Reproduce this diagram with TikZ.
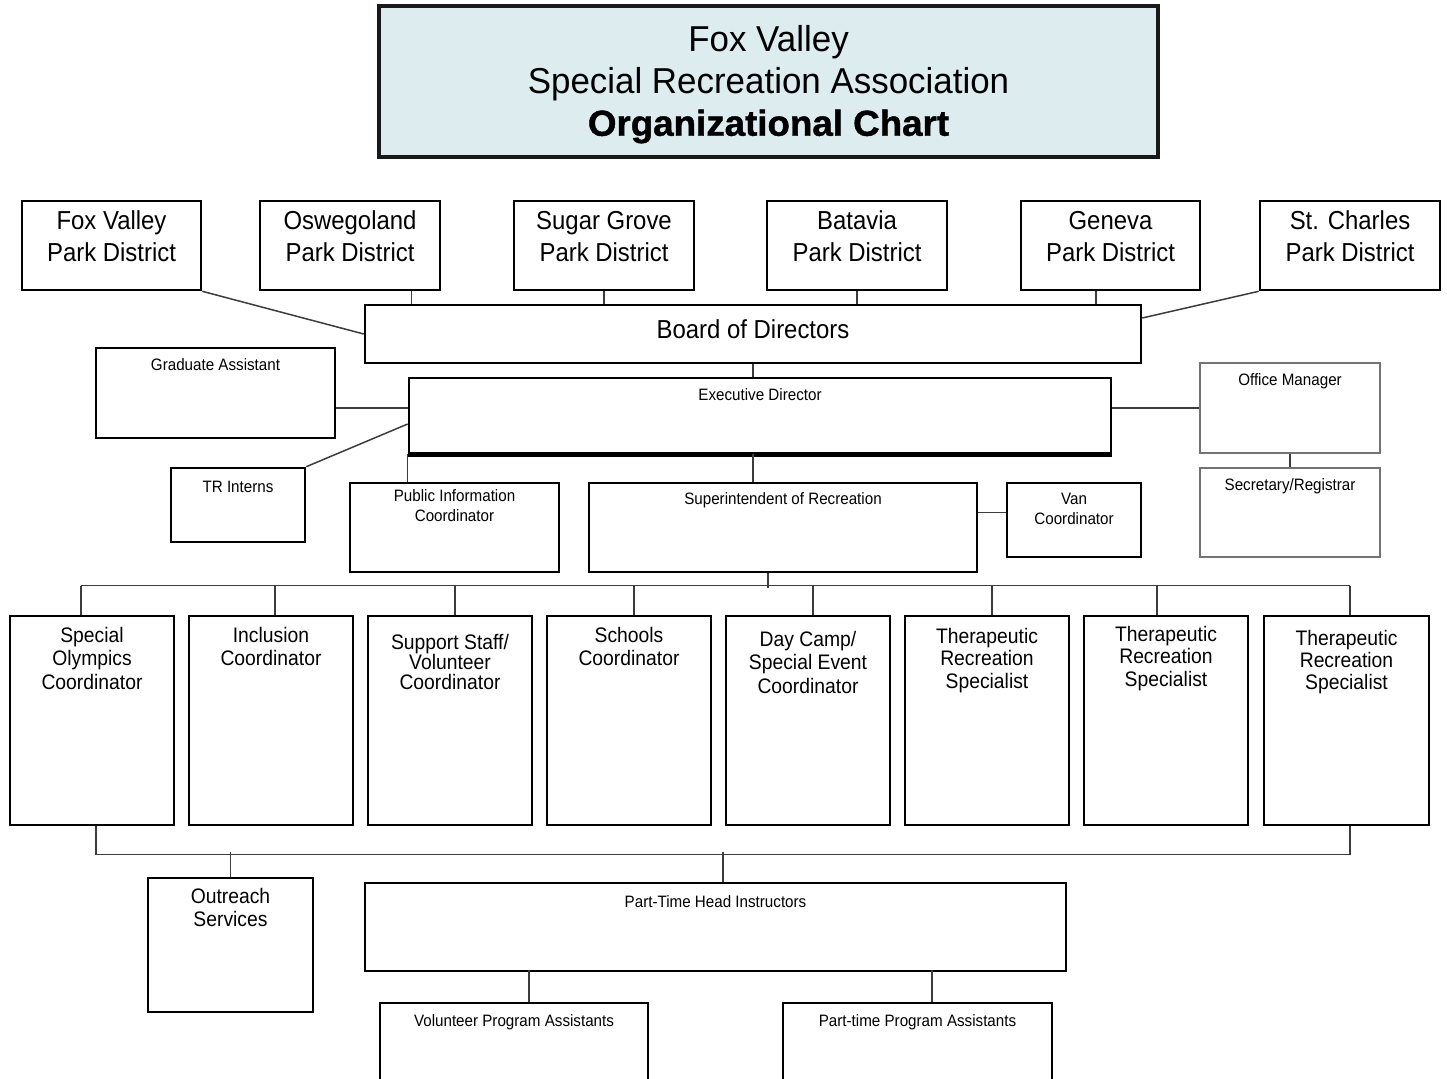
\documentclass[tikz,border=0pt]{standalone}
\usepackage{fontspec}
\setmainfont[FakeStretch=0.92,BoldFeatures={FakeStretch=1.0}]{Liberation Sans}
\newfontfamily\titlefont[FakeStretch=0.97,BoldFeatures={FakeStretch=1.02,FakeBold=1.2}]{Liberation Sans}
\usepackage{tikz}
\usetikzlibrary{positioning}

\definecolor{titlefill}{RGB}{221,236,239}
\definecolor{linkgray}{RGB}{60,60,60}

\begin{document}
\begin{tikzpicture}[x=1pt,y=-1pt,line join=miter]
  \tikzset{every node/.style={inner sep=0pt}}
  \tikzset{box/.style={draw=black,line width=2.6pt,fill=white,minimum width=#1}}
  \tikzset{thinbox/.style={draw=black!55,line width=1.6pt,fill=white,minimum width=#1}}
  \tikzset{link/.style={draw=linkgray,line width=1.5pt}}
  \tikzset{big/.style={font=\fontsize{26}{32}\selectfont,align=center}}
  \tikzset{mid/.style={font=\fontsize{21}{23.5}\selectfont,align=center}}
  \tikzset{small/.style={font=\fontsize{16.5}{20}\selectfont,align=center}}

  \clip (0,0) rectangle (1447,1078);
  \fill[white] (0,0) rectangle (1447,1078);

  % title
  \node[draw=black!90,line width=4.5pt,fill=titlefill,minimum width=779pt,minimum height=151pt,
        label={[font=\titlefont\fontsize{36}{42}\selectfont,align=center,yshift=-3pt]center:Fox Valley\\Special Recreation Association\\\textbf{Organizational Chart}}]
        (title) at (768.5,81.5) {};

  % park districts
  \node[box=179pt,minimum height=89pt,label={[big,anchor=north,yshift=-11pt]north:Fox Valley\\Park District}] (fox) at (111.5,245.5) {};
  \node[box=180pt,minimum height=89pt,label={[big,anchor=north,yshift=-11pt]north:Oswegoland\\Park District}] (osw) at (350,245.5) {};
  \node[box=180pt,minimum height=89pt,label={[big,anchor=north,yshift=-11pt]north:Sugar Grove\\Park District}] (sug) at (604,245.5) {};
  \node[box=180pt,minimum height=89pt,label={[big,anchor=north,yshift=-11pt]north:Batavia\\Park District}] (bat) at (857,245.5) {};
  \node[box=179pt,minimum height=89pt,label={[big,anchor=north,yshift=-11pt]north:Geneva\\Park District}] (gen) at (1110.5,245.5) {};
  \node[box=180pt,minimum height=89pt,label={[big,anchor=north,yshift=-11pt]north:St. Charles\\Park District}] (stc) at (1350,245.5) {};

  \node[box=776pt,minimum height=58pt,label={[big,yshift=5pt]center:Board of Directors}] (board) at (753,334) {};

  % staff
  \node[box=702pt,minimum height=75pt,label={[small,anchor=north,yshift=-12pt]north:Executive Director}] (exec) at (760,415.5) {};
  \draw[line width=4.5pt] (exec.south west) -- (exec.south east);
  \node[box=239pt,minimum height=90pt,label={[small,anchor=north,yshift=-12pt]north:Graduate Assistant}] (grad) at (215.5,393) {};
  \node[box=134pt,minimum height=74pt,label={[small,anchor=north,yshift=-14pt]north:TR Interns}] (tri) at (238,505) {};
  \node[thinbox=180pt,minimum height=90pt,label={[small,anchor=north,yshift=-11pt]north:Office Manager}] (office) at (1290,408) {};
  \node[thinbox=180pt,minimum height=89pt,label={[small,anchor=north,yshift=-11pt]north:Secretary/Registrar}] (sec) at (1290,512.5) {};
  \node[box=209pt,minimum height=89pt,label={[small,anchor=north,yshift=-8pt]north:Public Information\\Coordinator}] (pic) at (454.5,527.5) {};
  \node[box=388pt,minimum height=89pt,label={[small,anchor=north,yshift=-11pt]north:Superintendent of Recreation}] (supt) at (783,527.5) {};
  \node[box=134pt,minimum height=74pt,label={[small,anchor=north,yshift=-11pt]north:Van\\Coordinator}] (van) at (1074,520) {};

  % coordinators
  \node[box=164pt,minimum height=209pt,label={[mid,anchor=north,yshift=-12pt]north:Special\\Olympics\\Coordinator}] (so) at (92,720.5) {};
  \node[box=164pt,minimum height=209pt,label={[mid,anchor=north,yshift=-12pt]north:Inclusion\\Coordinator}] (inc) at (271,720.5) {};
  \node[box=164pt,minimum height=209pt,label={[mid,anchor=north,yshift=-19pt,font=\fontsize{21}{20}\selectfont]north:Support Staff/\\Volunteer\\Coordinator}] (stf) at (450,720.5) {};
  \node[box=164pt,minimum height=209pt,label={[mid,anchor=north,yshift=-12pt]north:Schools\\Coordinator}] (sch) at (629,720.5) {};
  \node[box=164pt,minimum height=209pt,label={[mid,anchor=north,yshift=-16pt]north:Day Camp/\\Special Event\\Coordinator}] (day) at (808,720.5) {};
  \node[box=164pt,minimum height=209pt,label={[mid,anchor=north,yshift=-13pt,font=\fontsize{21}{22.5}\selectfont]north:Therapeutic\\Recreation\\Specialist}] (tra) at (987,720.5) {};
  \node[box=164pt,minimum height=209pt,label={[mid,anchor=north,yshift=-11pt,font=\fontsize{21}{22.5}\selectfont]north:Therapeutic\\Recreation\\Specialist}] (trb) at (1166,720.5) {};
  \node[box=165pt,minimum height=209pt,label={[mid,anchor=north,yshift=-15pt,font=\fontsize{21}{22}\selectfont]north:Therapeutic\\Recreation\\Specialist}] (trc) at (1346.5,720.5) {};

  % bottom
  \node[box=165pt,minimum height=134pt,label={[mid,anchor=north,yshift=-11pt]north:Outreach\\Services}] (outr) at (230.5,945) {};
  \node[box=701pt,minimum height=88pt,label={[small,anchor=north,yshift=-14pt]north:Part-Time Head Instructors}] (head) at (715.5,927) {};
  \node[box=268pt,minimum height=90pt,label={[small,anchor=north,yshift=-13pt]north:Volunteer Program Assistants}] (vpa) at (514,1048) {};
  \node[box=269pt,minimum height=90pt,label={[small,anchor=north,yshift=-13pt]north:Part-time Program Assistants}] (ppa) at (917.5,1048) {};

  % connectors
  \path[link] (fox.south east) edge (board.west)
              ([xshift=-30pt]osw.south east) edge ([xshift=-30pt]osw.south east |- board.north)
              (sug.south) edge (sug.south |- board.north)
              (bat.south) edge (bat.south |- board.north)
              ([xshift=-14.5pt]gen.south) edge ([xshift=-14.5pt]gen.south |- board.north)
              (stc.south west) edge ([yshift=16pt]board.east)
              (board.south) edge (board.south |- exec.north)
              (tri.north east) edge ([yshift=-8.5pt]exec.west)
              (office.west -| exec.east) edge (office.west)
              (office.south) edge (sec.north)
              (exec.south west) edge (exec.south west |- pic.north)
              (board.south |- exec.south) edge (board.south |- supt.north);
  \path ([yshift=-15pt]grad.east) coordinate (ga)
        ([yshift=7.5pt]van.west) coordinate (vw);
  \draw[link] (ga) -- (ga -| exec.west);
  \draw[link] (vw -| supt.east) -- (vw);

  \draw[link] ([xshift=-15pt]supt.south) -- ++(0,15);
  \draw[link] ([xshift=-11pt,yshift=29pt]so.north) -- ([xshift=3.5pt,yshift=29pt]trc.north);
  \foreach \n/\dx in {so/-11,inc/4,stf/5,sch/5,day/5,tra/5,trb/-9,trc/3.5}
    \draw[link] ([xshift=\dx pt]\n.north) -- ++(0,-29);

  \draw[link] ([xshift=4pt]so.south) -- ++(0,28) -| ([xshift=3.5pt]trc.south);
  \draw[link] (outr.north) -- ++(0,-25);
  \draw[link] ([xshift=7.5pt]head.north) -- ++(0,-30);
  \draw[link] ([xshift=15pt]vpa.north) -- ++(0,-32);
  \draw[link] ([xshift=14.5pt]ppa.north) -- ++(0,-32);
\end{tikzpicture}
\end{document}
